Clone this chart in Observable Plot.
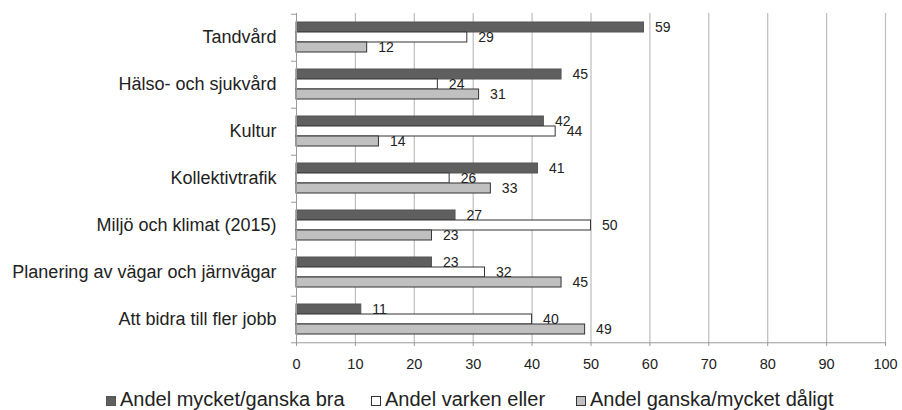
<!DOCTYPE html>
<html>
<head>
<meta charset="utf-8">
<script src="https://cdn.jsdelivr.net/npm/d3@7"></script>
<script src="https://cdn.jsdelivr.net/npm/@observablehq/plot@0.6"></script>
<style>
  html, body { margin: 0; padding: 0; background: #fff; }
  body { font-family: "Liberation Sans", Arial, sans-serif; width: 902px; height: 410px; overflow: hidden; }
  #legend { position: relative; height: 35px; margin-top: 14px; font-size: 20px; color: #222; line-height: 20px; white-space: nowrap; }
  .item { position: absolute; top: 0; display: flex; align-items: center; }
  .sw { display: inline-block; width: 10px; height: 10px; margin-right: 4px; margin-top: 3px; box-sizing: border-box; }
</style>
</head>
<body>
<div id="chart"></div>
<div id="legend"></div>
<script>
// ---- Data ----
const categories = [
  "Tandvård",
  "Hälso- och sjukvård",
  "Kultur",
  "Kollektivtrafik",
  "Miljö och klimat (2015)",
  "Planering av vägar och järnvägar",
  "Att bidra till fler jobb"
];
const seriesNames = ["Andel mycket/ganska bra", "Andel varken eller", "Andel ganska/mycket dåligt"];
const bra    = [59, 45, 42, 41, 27, 23, 11];
const varken = [29, 24, 44, 26, 50, 32, 40];
const daligt = [12, 31, 14, 33, 23, 45, 49];
const xTicks = [0, 10, 20, 30, 40, 50, 60, 70, 80, 90, 100];

// ---- Styles ----
const fills   = ["#5f5f5f", "#ffffff", "#c0c0c0"];
const strokes = ["#555555", "#333333", "#333333"];

const valuesBySeries = [bra, varken, daligt];
const rows = categories.flatMap((c, i) =>
  seriesNames.map((s, k) => ({cat: c, series: s, value: valuesBySeries[k][i]}))
);

const W = 902, H = 375, mt = 12, mb = 32, ml = 296, mr = 17;
const facetH = (H - mt - mb) / categories.length;
const po = 0.78;
const step = facetH / (3 + 2 * po);
const half = step * (0.5 + po);
const lastCat = categories[categories.length - 1];

const chart = Plot.plot({
  width: W, height: H,
  marginTop: mt, marginBottom: mb, marginLeft: ml, marginRight: mr,
  style: {fontFamily: '"Liberation Sans", Arial, sans-serif', background: "#fff", color: "#222"},
  x: {domain: [0, 100], axis: null},
  y: {domain: seriesNames, paddingInner: 0, paddingOuter: po, axis: null},
  fy: {domain: categories, padding: 0, axis: null},
  color: {domain: seriesNames, range: fills},
  facet: {data: rows, y: "cat", label: null},
  marks: [
    Plot.ruleX(xTicks.slice(1), {stroke: "#bdbdbd", strokeWidth: 1.2}),
    Plot.barX(rows, {
      x: "value", y: "series", fill: "series",
      stroke: (d) => strokes[seriesNames.indexOf(d.series)], strokeWidth: 1
    }),
    Plot.text(rows, {
      x: "value", y: "series", text: (d) => String(d.value),
      dx: 11, textAnchor: "start", fontSize: 14, fill: "#222"
    }),
    Plot.ruleX([0], {stroke: "#9a9a9a"}),
    Plot.ruleY([seriesNames[0]], {x1: -0.85, x2: 0, dy: -half, stroke: "#9a9a9a"}),
    Plot.ruleY([{cat: lastCat}], {fy: "cat", y: () => seriesNames[2], x1: -0.85, x2: 100, dy: half, stroke: "#9a9a9a"}),
    Plot.axisX({
      ticks: xTicks, tickFormat: (d) => String(d), tickSize: 4, tickPadding: 12,
      fontSize: 14.5, label: null, stroke: "#9a9a9a", fill: "#222", anchor: "bottom"
    }),
    Plot.axisFy({anchor: "left", tickSize: 0, tickPadding: 20, fontSize: 18, label: null, fill: "#222"})
  ]
});
document.getElementById("chart").appendChild(chart);

// ---- Legend ----
const legend = document.getElementById("legend");
const lefts = [106, 371, 576];
seriesNames.forEach((s, k) => {
  const it = document.createElement("div");
  it.className = "item";
  it.style.left = lefts[k] + "px";
  const sw = document.createElement("span");
  sw.className = "sw";
  sw.style.background = fills[k];
  sw.style.border = "1px solid " + strokes[k];
  const tx = document.createElement("span");
  tx.textContent = s;
  it.appendChild(sw); it.appendChild(tx);
  legend.appendChild(it);
});
</script>
</body>
</html>
